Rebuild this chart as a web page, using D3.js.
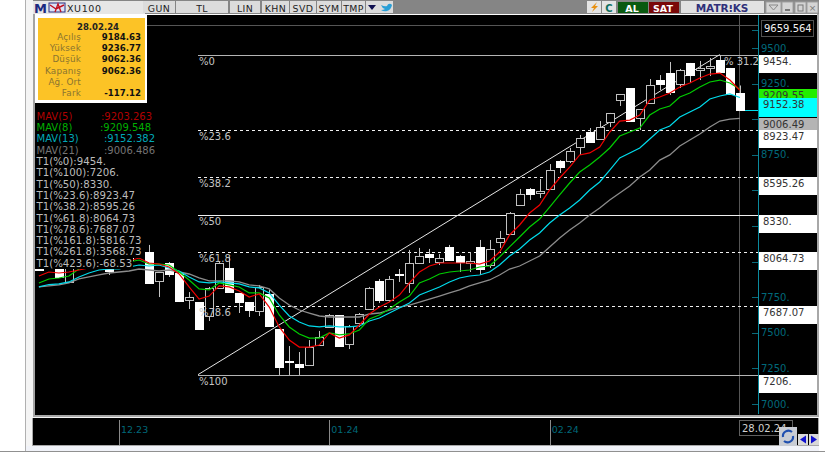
<!DOCTYPE html>
<html><head><meta charset="utf-8">
<script src="https://cdn.jsdelivr.net/npm/d3@7"></script>
<style>html,body{margin:0;padding:0;background:#fff;overflow:hidden}svg{display:block}text{font-family:"DejaVu Sans",sans-serif}</style>
</head><body><svg id="c" width="825" height="458"></svg>
<script>
const opens=[7983,8011,7969,7857,8025,7997,8039,7948,7983,8053,8039,8068,7864,7990,7920,7730,7716,7618,7815,7955,7780,7716,7653,7773,7527,7302,7281,7274,7414,7541,7625,7421,7569,7667,7864,7730,7913,7850,7990,8053,7997,8103,8039,7990,8103,7976,8138,8194,8397,8510,8482,8510,8706,8706,8805,8910,8861,8980,9135,9219,9008,9114,9275,9324,9247,9395,9346,9360,9416,9360,9184.63];
const highs=[7997,8025,7997,8025,8046,8053,8060,7997,8046,8082,8096,8117,7927,7997,7927,7786,7716,7822,7997,8032,7780,7716,7836,7801,7527,7407,7365,7449,7513,7632,7625,7555,7639,7822,7878,7899,7948,8082,8096,8089,8053,8117,8046,8067,8152,8152,8215,8348,8510,8517,8580,8685,8713,8798,8889,8938,8987,9044,9177,9219,9072,9282,9310,9402,9353,9395,9409,9430,9451,9360,9236.77];
const lows=[7934,7955,7885,7850,7969,7976,7969,7906,7969,7997,8025,7850,7751,7892,7716,7667,7527,7583,7815,7780,7639,7611,7618,7548,7204,7204,7204,7274,7414,7541,7407,7386,7541,7667,7709,7716,7857,7780,7983,7990,7976,8011,7927,7927,7906,7955,8096,8194,8397,8433,8447,8503,8622,8692,8749,8833,8861,8945,9093,8987,8924,9114,9205,9170,9219,9254,9275,9303,9332,9177,9062.36];
const closes=[7941,7969,7892,7997,7983,8032,7990,7934,8025,8011,8082,7850,7927,7913,7723,7751,7527,7815,7990,7787,7716,7660,7822,7548,7260,7295,7260,7400,7471,7625,7407,7548,7632,7815,7730,7878,7906,7990,8039,8032,8025,8011,7997,8004,7948,8089,8166,8341,8475,8475,8496,8643,8664,8777,8868,8840,8945,9044,9177,8987,9072,9240,9247,9191,9346,9310,9360,9374,9332,9177,9062.36];
const mav5=[7899,7927,7920,7927,7941,7955,7962,7969,7976,8004,8025,7990,7983,7962,7913,7822,7737,7758,7829,7822,7794,7751,7773,7681,7541,7449,7400,7400,7414,7499,7463,7485,7555,7632,7681,7716,7765,7850,7927,7969,7990,7990,7990,7990,7983,8004,8067,8187,8257,8341,8397,8503,8587,8664,8749,8763,8805,8910,8987,8994,9029,9135,9156,9184,9226,9254,9289,9317,9324,9275,9203.26];
const mav8=[7850,7878,7885,7899,7948,7955,7969,7976,7983,7997,8011,7983,7983,7976,7927,7871,7808,7801,7850,7836,7822,7780,7780,7744,7625,7541,7492,7463,7463,7499,7485,7492,7520,7597,7625,7667,7716,7758,7850,7878,7913,7927,7934,7941,7962,7969,8032,8103,8173,8243,8299,8383,8468,8552,8629,8678,8735,8798,8882,8910,8938,9029,9072,9093,9156,9184,9226,9261,9275,9254,9209.55];
const mav13=[7822,7839,7843,7857,7892,7920,7941,7948,7948,7962,7976,7969,7976,7955,7934,7892,7857,7850,7857,7850,7843,7822,7815,7780,7695,7618,7576,7548,7541,7548,7541,7541,7548,7583,7604,7639,7674,7709,7765,7794,7822,7857,7885,7899,7906,7927,7976,8039,8089,8152,8201,8271,8327,8376,8433,8503,8559,8643,8728,8763,8798,8861,8924,8952,9015,9051,9086,9142,9163,9177,9152.38];
const mav21=[7822,7829,7836,7850,7878,7892,7906,7920,7927,7934,7948,7941,7934,7941,7927,7913,7885,7864,7864,7864,7857,7836,7829,7808,7744,7695,7660,7639,7618,7611,7611,7611,7611,7632,7639,7660,7681,7695,7716,7737,7758,7780,7801,7829,7850,7871,7906,7948,7969,8004,8039,8103,8166,8222,8271,8327,8376,8433,8482,8531,8594,8643,8713,8749,8812,8854,8896,8945,8987,9001,9006.49];
const fibLevels=["%0","%23.6","%38.2","%50","%61.8","%78.6","%100"];
const fibValues=[9454,8923.47,8595.26,8330,8064.73,7687.07,7206];
const fibLabels=["9454.","8923.47","8595.26","8330.","8064.73","7687.07","7206."];
const priceTicks=[9500,9250,9000,8750,8500,8250,8000,7750,7500,7250,7000];
const shownPriceLabels=[9500,9250,8750,7750,7500,7250,7000];
const monthLabels=["12.23","01.24","02.24"];
const monthIndex=[8,29,51];
const infoLabels=["Açılış","Yüksek","Düşük","Kapanış","Ağ. Ort","Fark"];
const infoValues=["9184.63","9236.77","9062.36","9062.36","","-117.12"];
const legendMav=[["MAV(5)",":9203.263",101,"#b00000"],["MAV(8)",":9209.548",100,"#00b000"],["MAV(13)",":9152.382",104,"#00a8b8"],["MAV(21)",":9006.486",104,"#747474"]];
const legendFib=["T1(%0):9454.","T1(%100):7206.","T1(%50):8330.","T1(%23.6):8923.47","T1(%38.2):8595.26","T1(%61.8):8064.73","T1(%78.6):7687.07","T1(%161.8):5816.73","T1(%261.8):3568.73","T1(%423.6):-68.53"];
const toolbarButtons=[["GUN",143,32],["TL",176,52],["LIN",230,30],["KHN",262,27],["SVD",290,26],["SYM",317,24],["TMP",342,23]];

const svg=d3.select("#c");
const y=d3.scaleLinear().domain([9500,7000]).range([48,404]);
const x=d3.scaleLinear().domain([0,70]).range([38.9,739.9]);
const R=(g,a,b,w,h,f,s)=>g.append("rect").attr("x",a).attr("y",b).attr("width",w).attr("height",h).attr("fill",f).attr("stroke",s||"none");
const T=(g,a,b,t,f,sz,anc,wt)=>g.append("text").attr("x",a).attr("y",b).text(t).attr("fill",f).attr("font-size",sz).attr("text-anchor",anc||"start").attr("font-weight",wt||"normal");

// frame
R(svg,25,0,1,452,"#b0b0b0");
R(svg,26,0,7,446,"#f4f4f4");
R(svg,33,14,2,403,"#a4a4a4");
R(svg,35,15,782,400,"#000");
R(svg,33,415,786,2,"#a8a8a8");
R(svg,817,14,2,403,"#a8a8a8");
R(svg,33,417,786,1,"#f4f4f4");
R(svg,32,418,787,28,"#a8a8a8");
R(svg,33,418,785,27,"#000");
R(svg,26,446,793,5,"#f0f2f8");
svg.append("line").attr("x1",0).attr("x2",825).attr("y1",451.5).attr("y2",451.5).attr("stroke","#909090");

// toolbar
R(svg,33,0,786,14,"#858585");
R(svg,33,1,112,13,"#e6e6e6");
T(svg,34,12.5,"M","#1c2a80",13,"start","bold");
R(svg,49,3,16,9,"#dce3f5","#2a2f80");
svg.append("path").attr("d","M50 5 L56 9 L64 5 M55 12 L58 4 L61 12").attr("fill","none").attr("stroke","#c01020").attr("stroke-width",1.4);
T(svg,67,11.5,"XU100","#222",9.5,"start","normal").attr("letter-spacing",.6);
toolbarButtons.forEach(b=>{R(svg,b[1],1,b[2],12,"#dcdcdc");T(svg,b[1]+b[2]/2,11.5,b[0],"#222",9.4,"middle").attr("letter-spacing",.4);});
R(svg,366,1,12,12,"#dcdcdc");
svg.append("path").attr("d","M368 5 H376 L372 10 Z").attr("fill","#101050");
R(svg,378,1,15,12,"#dcdcdc");
svg.append("path").attr("d","M381 5 Q385 7 387 6 Q388 3 391 4 L392 5 Q391 10 387 11 Q384 12 381 10 Q384 10 385 9 Q382 8 381 5 Z").attr("fill","#2a9fd6");
R(svg,587,1,14,12,"#e4e4e4");
svg.append("path").attr("d","M597 2 L591 8 L594 8 L592 12 L598 6 L595 6 Z").attr("fill","#e89010");
R(svg,602,1,14,12,"#e4e4e4");
T(svg,609,11.5,"C","#107060",10,"middle","bold");
R(svg,618,2,30,11,"#0a5a10");
T(svg,632,11.5,"AL","#fff",9.5,"middle","bold");
R(svg,649,2,30,11,"#7a0808");
T(svg,663,11.5,"SAT","#fff",9.5,"middle","bold");
R(svg,681,1,83,12,"#e2e2e2");
T(svg,722,11.5,"MATR⁝KS","#30307a",10.5,"middle","bold");
[766,782,795,807].forEach((a,i)=>{R(svg,a,2,i?11:15,11,"#d4d4d4","#a0a0a0");});
svg.append("path").attr("d","M769 5 H778 L773.5 10 Z").attr("fill","none").attr("stroke","#888");
R(svg,785,9,5,2,"#777");R(svg,798,5,5,6,"none","#777");
T(svg,812.5,11,"×","#777",9,"middle");

// chart decoration
const chart=svg.append("g");
chart.append("line").attr("x1",35).attr("x2",758).attr("y1",25.5).attr("y2",25.5).attr("stroke","#555");
chart.append("line").attr("x1",739.5).attr("x2",739.5).attr("y1",15).attr("y2",415).attr("stroke","#555");

// fibonacci lines
fibValues.forEach((v,i)=>{
  const dashed=[1,2,4,5].includes(i);
  const col=i===0||i===6?"#b4b4b4":"#f0f0f0";
  chart.append("line").attr("x1",198).attr("x2",758).attr("y1",Math.round(y(v))+.5).attr("y2",Math.round(y(v))+.5)
    .attr("stroke",col).attr("stroke-width",1).attr("stroke-dasharray",dashed?"3,3":null);
});
chart.append("line").attr("x1",198).attr("y1",y(7206)).attr("x2",x(68)).attr("y2",y(9454)).attr("stroke","#e6e6e6");

// candles
const idx=d3.range(opens.length);
const candles=chart.selectAll("g.k").data(idx).join("g").attr("class","k");
candles.append("line").attr("x1",i=>Math.round(x(i))+.5).attr("x2",i=>Math.round(x(i))+.5)
  .attr("y1",i=>y(highs[i])).attr("y2",i=>y(lows[i])).attr("stroke","#c4c4c4");
candles.append("rect")
  .attr("x",i=>Math.round(x(i))-3.5)
  .attr("width",8)
  .attr("y",i=>Math.round(y(Math.max(opens[i],closes[i])))+.5)
  .attr("height",i=>Math.max(1,Math.round(Math.abs(y(opens[i])-y(closes[i])))))
  .attr("fill",i=>closes[i]<opens[i]?"#fff":"#000")
  .attr("stroke",i=>closes[i]<opens[i]?"#fff":"#c0c0c0");

// moving averages
const line=d3.line().x((d,i)=>x(i)).y(d=>y(d));
[[mav21,"#8c8c8c",1.3],[mav13,"#00dcec",1.2],[mav8,"#00cc00",1.2],[mav5,"#f00000",1.2]].forEach(s=>{
  chart.append("path").attr("d",line(s[0])).attr("fill","none").attr("stroke",s[1]).attr("stroke-width",s[2]);
});

// fibonacci labels sit above the candles
fibValues.forEach((v,i)=>T(chart,199,Math.round(y(v))+10,fibLevels[i],"#c4c4c4",10));
const pct=T(chart,724,y(9454)+10,"% 31.2","#c4c4c4",10);

// legend block hides what is under it
R(chart,35,108,110,150,"#000");
R(chart,35,258,98,11,"#000");

// info box
R(svg,35,15,112,88,"#fff");
R(svg,38,18,107,82,"#fcc326");
T(svg,98,29.5,"28.02.24","#222",8.5,"middle","bold");
infoLabels.forEach((l,i)=>{
  const b=39.5+i*11.35;
  T(svg,81,b,l,"#8a7430",8.8,"end").attr("letter-spacing",.2);
  T(svg,141,b,infoValues[i],"#111",8.6,"end","bold");
});

// legend text
legendMav.forEach((m,i)=>{
  const b=119.5+i*11.35;
  T(svg,36.5,b,m[0],m[3],10);
  T(svg,m[2],b,m[1],m[3],10);
});
legendFib.forEach((t,i)=>{
  T(svg,36.5,165+i*11.3,t,"#bcbcbc",10.2);
});

// right axis
const axisG=svg.append("g");
R(axisG,758,15,59,400,"#000");
axisG.append("line").attr("x1",758.5).attr("x2",758.5).attr("y1",15).attr("y2",414).attr("stroke","#0a8a9e");
priceTicks.forEach(v=>{
  axisG.append("line").attr("x1",752).attr("x2",758).attr("y1",Math.round(y(v))+.5).attr("y2",Math.round(y(v))+.5).attr("stroke","#0a6a7a");
  if(shownPriceLabels.includes(v)) T(axisG,761,y(v)+3.5,v+".","#00687a",10);
});
axisG.append("line").attr("x1",752).attr("x2",758).attr("y1",30.5).attr("y2",30.5).attr("stroke","#0a6a7a");
axisG.append("line").attr("x1",745).attr("x2",758).attr("y1",110.5).attr("y2",110.5).attr("stroke","#00dcec");

// price tags
R(axisG,761.5,20.5,52,16,"#000","#505050");
T(axisG,764,32,"9659.564","#f0f0f0",10);
const tag=(v,s,fill,h)=>{const t=Math.round(y(v));R(axisG,759,t,58,h,fill);T(axisG,763,t+10,s,"#333",10);};
fibValues.forEach((v,i)=>{if(i!==1)tag(v,fibLabels[i],"#fff",18);});
tag(9209.548,"9209.55","#22ee00",9);
tag(9006.486,"9006.49","#b4b4b4",13);
tag(8923.47,"8923.47","#fff",18);
tag(9152.382,"9152.38","#00ffff",19);

// bottom strip
monthLabels.forEach((m,i)=>{
  T(svg,x(monthIndex[i])+2,433,m,"#00687a",9.5);
  svg.append("line").attr("x1",Math.round(x(monthIndex[i]))+.5).attr("x2",Math.round(x(monthIndex[i]))+.5).attr("y1",420).attr("y2",445).attr("stroke","#8a8a8a");
});
R(svg,739.5,420.5,53,15,"#000","#606060");
T(svg,742,432,"28.02.24","#d0d0d0",10);
R(svg,779,427,18,19,"#c8ccd4");
svg.append("path").attr("d","M783 437 A5.5 5.5 0 0 1 792 432 M793 436 A5.5 5.5 0 0 1 784 441").attr("fill","none").attr("stroke","#1f4fb0").attr("stroke-width",2.2);
R(svg,798,434,10,11,"#d8d8d8");R(svg,809,434,10,11,"#d8d8d8");
svg.append("path").attr("d","M800 439.5 L806 435.5 V443.5 Z M817 439.5 L811 435.5 V443.5 Z").attr("fill","#1010d0");
</script></body></html>
